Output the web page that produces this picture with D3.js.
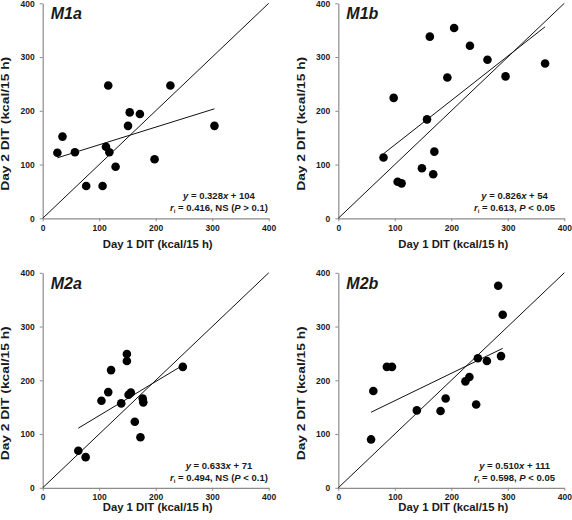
<!DOCTYPE html>
<html>
<head>
<meta charset="utf-8">
<script src="https://cdn.jsdelivr.net/npm/d3@7"></script>
<style>
  html, body { margin: 0; padding: 0; background: #fff; }
  svg { display: block; font-family: "Liberation Sans", Arial, sans-serif; }
</style>
</head>
<body>
<svg id="chart" width="572" height="520"></svg>
<script>
// ---------------- data ----------------
const panelNames = ["M1a", "M1b", "M2a", "M2b"];

const m1aDay1 = [26, 35, 57, 77, 106, 112, 118, 116, 129, 151, 154, 172, 198, 226, 304];
const m1aDay2 = [122, 152, 123, 60, 60, 133, 123, 247, 96, 172, 197, 194, 110, 247, 172];

const m1bDay1 = [80, 98, 105, 112, 148, 157, 162, 168, 170, 193, 205, 233, 264, 296, 366];
const m1bDay2 = [113, 224, 68, 65, 93, 184, 338, 82, 124, 262, 354, 321, 295, 264, 288];

const m2aDay1 = [63, 76, 104, 116, 121, 139, 149, 149, 152, 156, 163, 173, 177, 178, 248];
const m2aDay2 = [69, 57, 162, 178, 219, 157, 249, 236, 173, 177, 123, 94, 166, 159, 225];

const m2bDay1 = [58, 62, 86, 95, 139, 181, 190, 225, 232, 244, 247, 263, 283, 288, 291];
const m2bDay2 = [90, 180, 225, 225, 144, 143, 166, 198, 206, 155, 241, 236, 376, 245, 322];

const slopes = [0.328, 0.826, 0.633, 0.510];
const intercepts = [104, 54, 71, 111];
const slopeLabels = ["0.328", "0.826", "0.633", "0.510"];
const rLabels = ["0.416", "0.613", "0.494", "0.598"];
const sigLabels = ["NS", "", "NS", ""];
const pOps = [">", "<", "<", "<"];
const pVals = ["0.1", "0.05", "0.1", "0.05"];

const tickValues = [0, 100, 200, 300, 400];
const xTitle = "Day 1 DIT (kcal/15 h)";
const yTitle = "Day 2 DIT (kcal/15 h)";

const xs = [m1aDay1, m1bDay1, m2aDay1, m2bDay1];
const ys = [m1aDay2, m1bDay2, m2aDay2, m2bDay2];

// ---------------- layout ----------------
const svg = d3.select("#chart");
const W = 226, H = 215;
const origins = [[42.7, 3.3], [338.3, 3.3], [42.7, 272.8], [338.3, 272.8]];
const xTitleOffsets = [30, 30, 23, 23];
const axisColor = "#8c8c8c";
const textColor = "#1a1a1a";

const x = d3.scaleLinear().domain([0, 400]).range([0, W]);
const y = d3.scaleLinear().domain([0, 400]).range([H, 0]);

panelNames.forEach((name, i) => {
  const g = svg.append("g").attr("transform", `translate(${origins[i][0]},${origins[i][1]})`);

  // axes
  const xAxis = g.append("g").attr("transform", `translate(0,${H})`)
    .call(d3.axisBottom(x).tickValues(tickValues).tickSize(3).tickSizeOuter(0).tickPadding(3.5));
  const yAxis = g.append("g")
    .call(d3.axisLeft(y).tickValues(tickValues).tickSize(3).tickSizeOuter(0).tickPadding(5));
  [xAxis, yAxis].forEach(a => {
    a.select(".domain").attr("stroke", axisColor).attr("stroke-width", 1.2);
    a.selectAll(".tick line").attr("stroke", axisColor).attr("stroke-width", 1);
    a.selectAll(".tick text").attr("fill", textColor)
      .style("font-size", "8.5px").style("font-weight", "bold")
      .style("font-family", "'Liberation Sans', Arial, sans-serif");
  });

  // identity line
  g.append("line")
    .attr("x1", x(0)).attr("y1", y(0)).attr("x2", x(400)).attr("y2", y(400))
    .attr("stroke", "#111").attr("stroke-width", 1);

  // regression line
  const xmin = d3.min(xs[i]), xmax = d3.max(xs[i]);
  g.append("line")
    .attr("x1", x(xmin)).attr("y1", y(slopes[i] * xmin + intercepts[i]))
    .attr("x2", x(xmax)).attr("y2", y(slopes[i] * xmax + intercepts[i]))
    .attr("stroke", "#111").attr("stroke-width", 1);

  // points
  g.selectAll("circle.pt").data(xs[i].map((v, k) => [v, ys[i][k]]))
    .enter().append("circle").attr("class", "pt")
    .attr("cx", d => x(d[0])).attr("cy", d => y(d[1])).attr("r", 4.3)
    .attr("fill", "#000");

  // panel label
  g.append("text").attr("x", 8).attr("y", 16)
    .attr("fill", textColor)
    .style("font-size", "16px").style("font-weight", "bold").style("font-style", "italic")
    .text(name);

  // annotation
  const ax = x(312);
  const t1 = g.append("text").attr("x", ax).attr("y", y(35)).attr("text-anchor", "middle")
    .attr("fill", textColor).style("font-size", "9.5px").style("font-weight", "bold");
  t1.append("tspan").style("font-style", "italic").text("y");
  t1.append("tspan").text(" = " + slopeLabels[i]);
  t1.append("tspan").style("font-style", "italic").text("x");
  t1.append("tspan").text(" + " + intercepts[i]);

  const t2 = g.append("text").attr("x", ax).attr("y", y(13)).attr("text-anchor", "middle")
    .attr("fill", textColor).style("font-size", "9.5px").style("font-weight", "bold");
  t2.append("tspan").style("font-style", "italic").text("r");
  t2.append("tspan").style("font-size", "6px").attr("dy", 2).text("i");
  t2.append("tspan").attr("dy", -2).text(" = " + rLabels[i] + ", " + (sigLabels[i] ? sigLabels[i] + " (" : ""));
  t2.append("tspan").style("font-style", "italic").text("P");
  t2.append("tspan").text(" " + pOps[i] + " " + pVals[i] + (sigLabels[i] ? ")" : ""));

  // axis titles
  g.append("text").attr("x", W / 2 + 2).attr("y", H + xTitleOffsets[i]).attr("text-anchor", "middle")
    .attr("fill", textColor).style("font-size", "11.3px").style("font-weight", "bold")
    .text(xTitle);
  g.append("text").attr("transform", `translate(-33.5,${H / 2 + 13}) rotate(-90)`)
    .attr("text-anchor", "middle")
    .attr("textLength", 134).attr("lengthAdjust", "spacingAndGlyphs")
    .attr("fill", textColor).style("font-size", "11.5px").style("font-weight", "bold")
    .text(yTitle);
});
</script>
</body>
</html>
